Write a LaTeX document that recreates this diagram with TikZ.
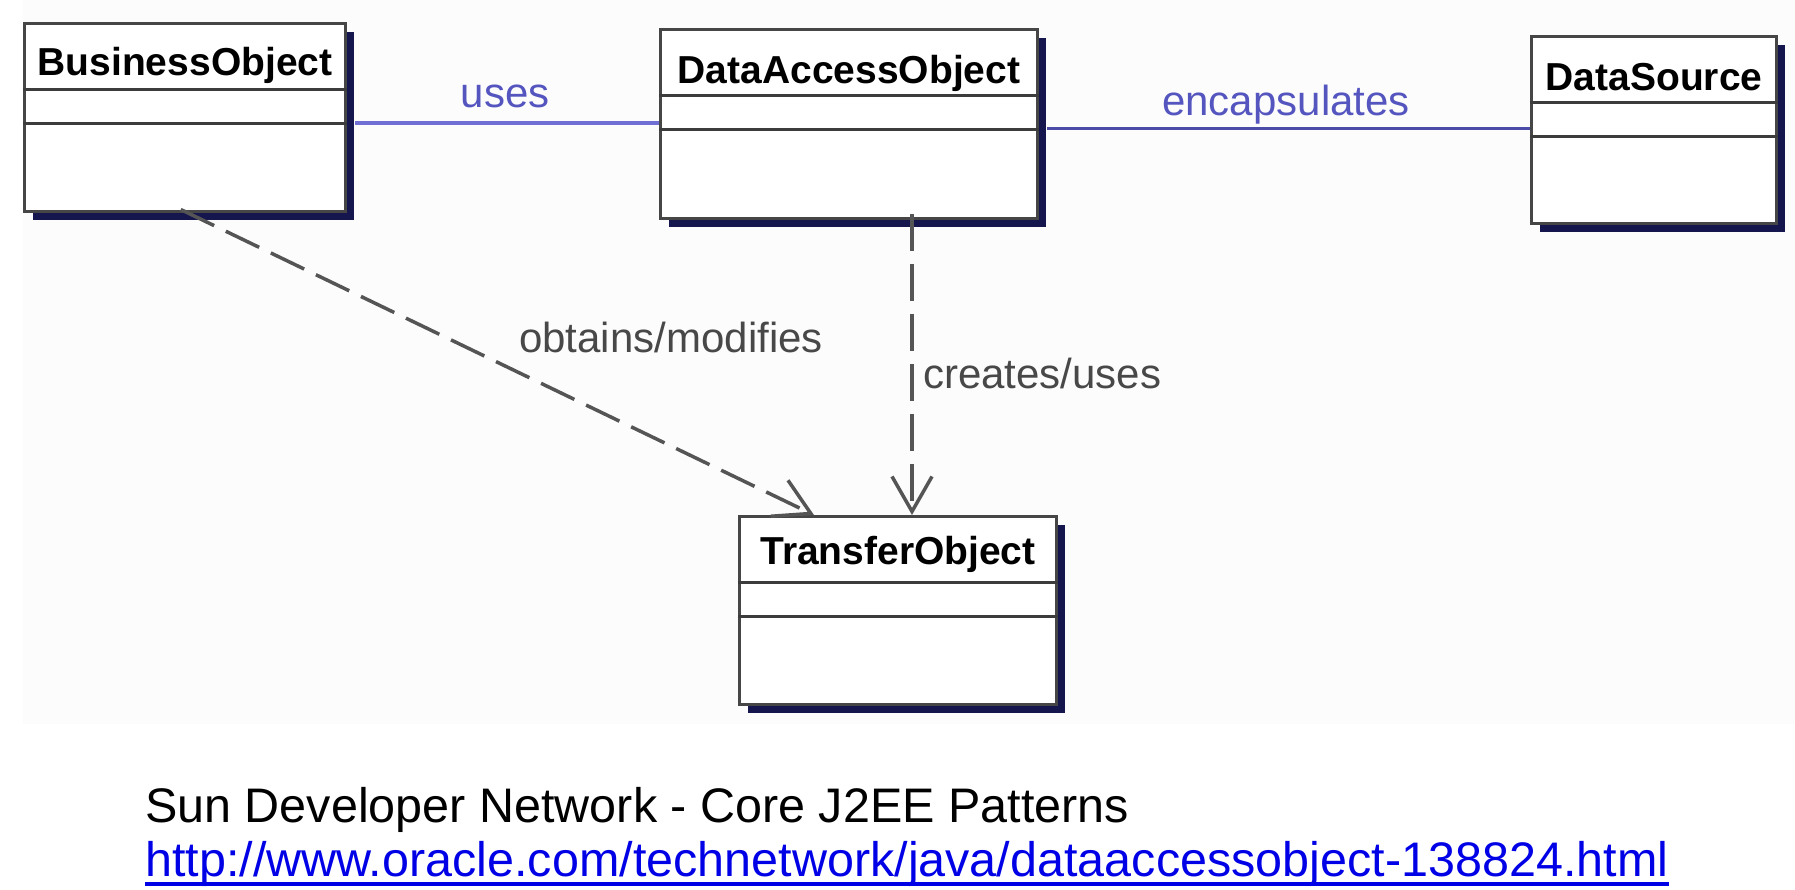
\documentclass[tikz,border=0pt]{standalone}
\usepackage{fontspec}
\setmainfont{Liberation Sans}
\usetikzlibrary{arrows.meta,calc,shadows}
\definecolor{shadowc}{HTML}{16164F}
\definecolor{borderc}{HTML}{464646}
\definecolor{divc}{HTML}{3C3C3C}
\definecolor{assoc}{HTML}{7070D4}
\definecolor{assocdark}{HTML}{4B4BA8}
\definecolor{labelblue}{HTML}{5555C0}
\definecolor{labelgray}{HTML}{484848}
\definecolor{depc}{HTML}{555555}
\definecolor{linkblue}{HTML}{0000E6}
\definecolor{bgc}{HTML}{FCFCFC}
\begin{document}
\begin{tikzpicture}[x=1pt,y=-1pt,
  classbox/.style={draw=borderc, line width=3pt, fill=white, anchor=north west, inner sep=0pt,
    general shadow={shadow xshift=8pt, shadow yshift=-8pt, fill=shadowc}},
  classtitle/.style={anchor=base, inner sep=0pt, font=\bfseries\fontsize{39}{47}\selectfont},
  divider/.style={draw=divc, line width=3pt},
  assocline/.style={draw=assoc, line width=4pt},
  assocthin/.style={draw=assocdark, line width=3pt},
  asslabel/.style={inner sep=0pt, text=labelblue, font=\fontsize{42}{50}\selectfont},
  deplabel/.style={inner sep=0pt, text=labelgray, font=\fontsize{42}{50}\selectfont},
  dep/.style={draw=depc, line width=3.5pt, dash pattern=on 37pt off 13pt,
    -{Straight Barb[length=35pt,width=40pt]}},
  note/.style={anchor=base west, inner sep=0pt, font=\fontsize{48.5}{56}\selectfont}]
\useasboundingbox (0,0) rectangle (1795,889);
\fill[bgc] (23,0) rectangle (1795,724);

% coordinates for connector ends
\coordinate (uy) at (0,123);
\coordinate (ey) at (0,128);
\coordinate (d1) at (188,0);
\coordinate (d2) at (814,0);
\coordinate (vx) at (912,0);

% class boxes
\node[classbox, minimum width=321pt, minimum height=188pt] (BO) at (23,22) {};
\node[classbox, minimum width=377pt, minimum height=189pt] (DAO) at (659,28) {};
\node[classbox, minimum width=245pt, minimum height=187pt] (DS) at (1530,35) {};
\node[classbox, minimum width=317pt, minimum height=188pt] (TO) at (738,515) {};

% titles
\node[classtitle] (BOt) at ($(BO.north)+(0,53)$) {BusinessObject};
\node[classtitle] (DAOt) at ($(DAO.north)+(0,55)$) {DataAccessObject};
\node[classtitle] (DSt) at ($(DS.north)+(0,55)$) {DataSource};
\node[classtitle] (TOt) at ($(TO.north)+(0,49)$) {TransferObject};

% compartments
\foreach \n in {BO,DAO,DS,TO}{
  \draw[divider] ($(\n.north west)+(0,67)$) -- ($(\n.north east)+(0,67)$);
  \draw[divider] ($(\n.north west)+(0,101)$) -- ($(\n.north east)+(0,101)$);
}

% associations
\draw[assocline] ([xshift=8pt]BO.east |- uy) -- (DAO.west |- uy);
\draw[assocthin] ([xshift=8pt]DAO.east |- ey) -- (DS.west |- ey);
\node[asslabel, anchor=base] (uses) at (505,107) {uses};
\node[asslabel, anchor=base] (enc) at (1286,115) {encapsulates};

% dependencies
\draw[dep, shorten <=-8pt] (BO.south -| d1) -- (TO.north -| d2);
\draw[dep, shorten <=-6pt] (DAO.south -| vx) -- (TO.north -| vx);
\node[deplabel, anchor=base] (om) at (671,352) {obtains/modifies};
\node[deplabel, anchor=base west] (cu) at (923,388) {creates/uses};

% source note
\node[note] (src) at (145,822) {Sun Developer Network - Core J2EE Patterns};
\node[note, text=linkblue] (url) at (145,876) {http://www.oracle.com/technetwork/java/dataaccessobject-138824.html};
\draw[linkblue, line width=4pt] ($(url.base west)+(0,8)$) -- ($(url.base east)+(0,8)$);
\end{tikzpicture}
\end{document}
